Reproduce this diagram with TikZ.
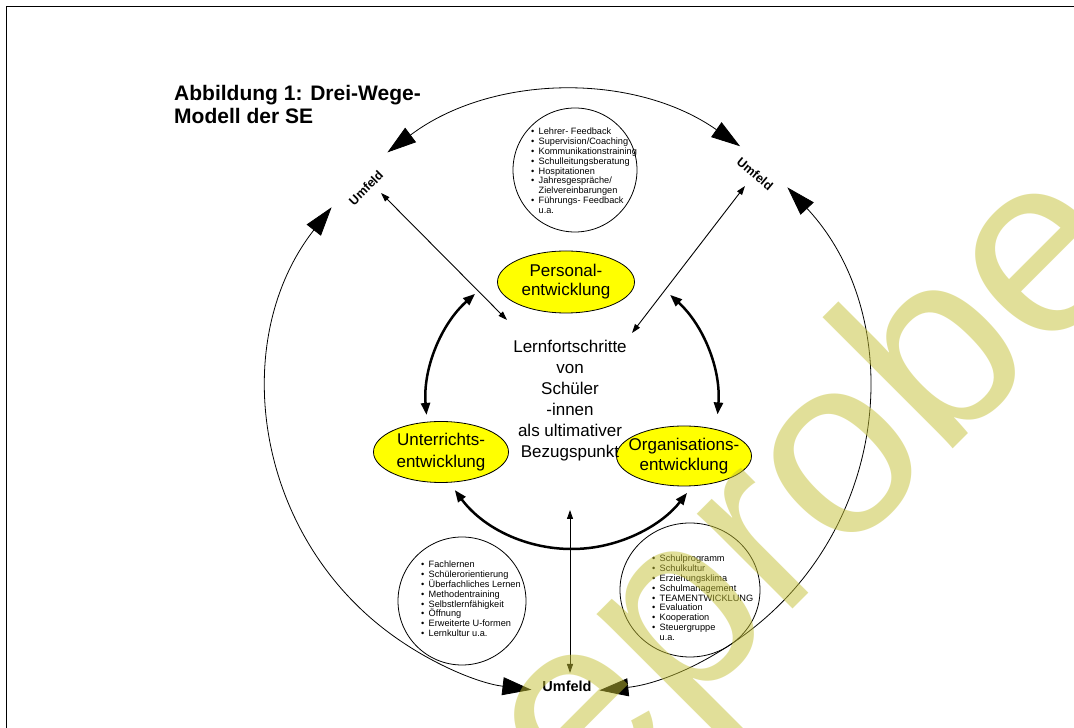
\documentclass[tikz,border=0pt]{standalone}
\usepackage{fontspec}
\setmainfont{Liberation Sans}
\usetikzlibrary{arrows.meta,shapes.geometric,calc}
\definecolor{wm}{RGB}{197,193,53}
\definecolor{ey}{RGB}{255,255,0}
\newcommand\lbul{\makebox[7.5pt][l]{\textbullet}}
\newcommand\lind{\hspace*{7.5pt}}
\begin{document}
\begin{tikzpicture}[x=1pt,y=1pt,
  bigtip/.style={{Triangle[length=29pt,width=18pt]}-{Triangle[length=29pt,width=18pt]}, line width=0.8pt},
  thinarr/.style={{Triangle[length=9pt,width=6pt]}-{Triangle[length=9pt,width=6pt]}, line width=0.9pt},
  thickarr/.style={{Triangle[length=12pt,width=9pt]}-{Triangle[length=12pt,width=9pt]}, line width=2.5pt},
  dev/.style={ellipse, draw, line width=0.8pt, fill=ey, inner sep=0pt, align=center},
  listcirc/.style={circle, draw, line width=0.8pt, inner sep=0pt},
  listtext/.style={align=left, anchor=base west, inner sep=0pt, font=\fontsize{9.2}{9.8}\selectfont},
  umf/.style={font=\bfseries\fontsize{12.5}{14}\selectfont, inner sep=0pt}
]
\useasboundingbox (0,0) rectangle (1074,728);
\clip (0,0) rectangle (1074,728);
\fill[white] (0,0) rectangle (1074,728);
% frame
\draw[line width=1.6pt] (6.5,-20) -- (6.5,721.5) -- (1100,721.5);
% title (anchor = baseline of last line)
\node[anchor=base west, inner sep=0pt, align=left, font=\bfseries\fontsize{21}{23}\selectfont] (title) at (174,604) {Abbildung 1: Drei-Wege-\\Modell der SE};
% Umfeld labels
\node[umf, rotate=45] (utl) at (366,540) {Umfeld};
\node[umf, rotate=-40] (utr) at (755,554) {Umfeld};
\node[umf, font=\bfseries\fontsize{14.5}{16}\selectfont] (ubot) at (567,41.5) {Umfeld};
% outer arcs
\coordinate (O) at (568,336);
\draw[bigtip] ([shift={(127:300)}]O) arc[start angle=127,end angle=55,radius=300pt];
\draw[bigtip] ([shift={(43:300)}]O) arc[start angle=43,end angle=-84,radius=300pt];
\draw[bigtip] ([shift={(142:300)}]O) arc[start angle=142,end angle=263,radius=300pt];
% list circles
\node[listcirc, minimum size=124pt] (ctop) at (575,558) {};
\node[listcirc, minimum size=128pt] (cbl) at (462,127) {};
\node[ellipse, draw, line width=0.8pt, inner sep=0pt, minimum width=140pt, minimum height=134pt] (cbr) at (690,138) {};
\node[listtext] (ltop) at (531,514.7) {\lbul Lehrer- Feedback\\
\lbul Supervision/Coaching\\
\lbul Kommunikationstraining\\
\lbul Schulleitungsberatung\\
\lbul Hospitationen\\
\lbul Jahresgespräche/\\
\lind Zielvereinbarungen\\
\lbul Führungs- Feedback\\
\lind u.a.};
\node[listtext] (lbl) at (421,91.4) {\lbul Fachlernen\\
\lbul Schülerorientierung\\
\lbul Überfachliches Lernen\\
\lbul Methodentraining\\
\lbul Selbstlernfähigkeit\\
\lbul Öffnung\\
\lbul Erweiterte U-formen\\
\lbul Lernkultur u.a.};
\node[listtext] (lbr) at (652,87.6) {\lbul Schulprogramm\\
\lbul Schulkultur\\
\lbul Erziehungsklima\\
\lbul Schulmanagement\\
\lbul TEAMENTWICKLUNG\\
\lbul Evaluation\\
\lbul Kooperation\\
\lbul Steuergruppe\\
\lind u.a.};
% development ellipses
\node[dev, minimum width=137pt, minimum height=62pt, font=\fontsize{17}{19}\selectfont] (pe) at (566,446) {\makebox[0pt]{Personal-}\\\makebox[0pt]{entwicklung}};
\node[dev, minimum width=135pt, minimum height=61pt, font=\fontsize{17}{22}\selectfont] (ue) at (441,276) {\makebox[0pt]{Unterrichts-}\\\makebox[0pt]{entwicklung}};
\node[dev, minimum width=135pt, minimum height=60pt, font=\fontsize{17}{19.5}\selectfont] (oe) at (684,272) {\makebox[0pt]{Organisations-}\\\makebox[0pt]{entwicklung}};
% centre text (anchor = baseline of last line)
\node[align=center, anchor=base, inner sep=0pt, font=\fontsize{17}{20.9}\selectfont] (lf) at (570,270.5) {Lernfortschritte\\von\\Schüler\\-innen\\als ultimativer\\Bezugspunkt};
% thick arcs between the ellipses
\coordinate (I) at (572,325);
\draw[thickarr] ([shift={(131.6:146)}]I) arc[start angle=131.6,end angle=184.7,radius=146pt];
\draw[thickarr] ([shift={(47.8:146)}]I) arc[start angle=47.8,end angle=-4.5,radius=146pt];
\draw[thickarr] ([shift={(216.6:146)}]I) arc[start angle=216.6,end angle=322,radius=146pt];
% thin arrows
\coordinate (a1) at (381,535); \coordinate (a2) at (507,408);
\coordinate (b1) at (745,542); \coordinate (b2) at (632,395);
\coordinate (c1) at (570,218); \coordinate (c2) at (570,55);
\draw[thinarr] (a1) -- (a2);
\draw[thinarr] (b1) -- (b2);
\draw[thinarr] (c1) -- (c2);
% watermark
\node[anchor=base east, rotate=45, inner sep=0pt, text=wm, text opacity=0.5, font=\fontsize{255}{255}\selectfont] (wmk) at (1142,468) {Leseprobe};
\end{tikzpicture}
\end{document}
